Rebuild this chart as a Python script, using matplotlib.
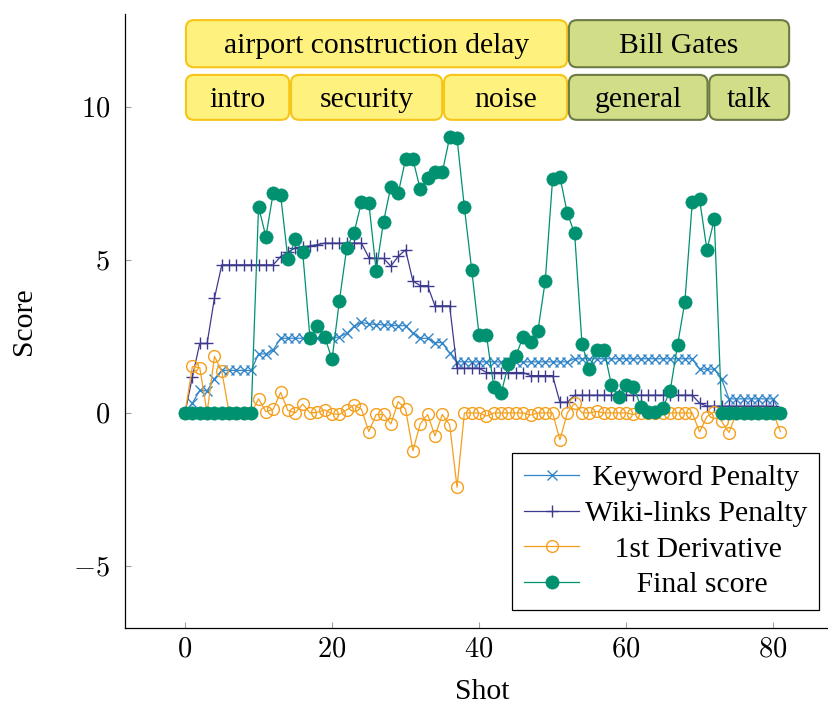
import numpy as np
import matplotlib
matplotlib.use("Agg")
import matplotlib.pyplot as plt
from matplotlib.patches import FancyBboxPatch
from matplotlib.ticker import FuncFormatter

plt.rcParams['font.family'] = ['Liberation Serif', 'DejaVu Serif']
plt.rcParams['mathtext.fontset'] = 'cm'

# Data (shots 0..81)
keyword_penalty = [0, 0.32, 0.74, 0.72, 1.12, 1.39, 1.39, 1.39, 1.39, 1.39,
                   1.93, 1.93, 2.06, 2.44, 2.44, 2.44, 2.44, 2.44, 2.44, 2.44,
                   2.44, 2.49, 2.60, 2.84, 2.96, 2.91, 2.89, 2.88, 2.87, 2.85,
                   2.85, 2.60, 2.44, 2.44, 2.30, 2.30, 1.95] + [1.67] * 16 + [1.77] * 17 + \
                  [1.43, 1.43, 1.43, 1.10] + [0.46] * 7 + [0]

wiki_penalty = [0, 1.18, 2.27, 2.27, 3.75] + [4.84] * 8 + \
               [5.11, 5.25, 5.40, 5.43, 5.46, 5.50] + [5.55] * 6 + \
               [5.08, 5.05, 5.05, 4.80, 5.12, 5.33, 4.31, 4.16, 4.16, 3.50, 3.50, 3.50] + \
               [1.46] * 4 + [1.32] * 6 + [1.22] * 4 + [0.35, 0.35] + [0.58] * 17 + \
               [0.32] + [0.22] * 10 + [0]

first_derivative = [0, 1.52, 1.48, 0, 1.85, 1.36, 0, 0, 0, 0,
                    0.46, 0.04, 0.12, 0.67, 0.08, 0.0, 0.29, 0.0, 0.02, 0.10,
                    -0.03, -0.05, 0.10, 0.26, 0.12, -0.61, -0.05, -0.05, -0.36, 0.37,
                    0.12, -1.23, -0.36, -0.05, -0.75, -0.05, -0.39, -2.43, 0, 0,
                    0, -0.10, 0, 0, 0, 0, 0, -0.07, 0, 0,
                    0, -0.88, 0, 0.32, 0, 0, 0.05, 0, 0, 0,
                    0, -0.05, 0, 0, 0, 0, 0, 0, 0, 0,
                    -0.62, -0.12, 0.04, -0.28, -0.64, 0, 0, 0, 0, 0,
                    0, -0.61]

final_score = [0] * 10 + \
              [6.74, 5.76, 7.20, 7.12, 5.02, 5.67, 5.27, 2.44, 2.84, 2.49,
               1.75, 3.67, 5.40, 5.89, 6.90, 6.87, 4.65, 6.25, 7.40, 7.18,
               8.29, 8.29, 7.31, 7.67, 7.89, 7.87, 9.01, 8.98, 6.72, 4.67,
               2.55, 2.55, 0.86, 0.64, 1.60, 1.87, 2.49, 2.33, 2.68, 4.31,
               7.64, 7.72, 6.53, 5.87, 2.25, 1.44, 2.06, 2.06, 0.92, 0.53,
               0.92, 0.86, 0.21, 0.04, 0.04, 0.17, 0.73, 2.22, 3.64, 6.88,
               6.98, 5.33, 6.33] + [0] * 9

shots = np.arange(len(final_score))

# Topic segments shown above the curves (shot ranges)
topic_labels = ["airport construction delay", "Bill Gates"]
topic_bounds = [(0, 52.1), (52.1, 82.3)]
subtopic_labels = ["intro", "security", "noise", "general", "talk"]
subtopic_bounds = [(0, 14.3), (14.3, 35.1), (35.1, 52.1), (52.1, 71.2), (71.2, 82.3)]
subtopic_group = [0, 0, 0, 1, 1]

FS = 21.3

fig = plt.figure(figsize=(8.29, 7.07), dpi=100)
ax = fig.add_axes([125.5 / 829, 1 - 628 / 707, (840 - 125.5) / 829, 614 / 707])

ax.plot(shots, keyword_penalty, color='#3387c9', lw=0.9, marker='x', ms=6.5, mew=1.0,
        label=' Keyword Penalty')
ax.plot(shots, wiki_penalty, color='#3d3a8e', lw=0.9, marker='+', ms=9, mew=1.0,
        label='Wiki-links Penalty')
ax.plot(shots, first_derivative, color='#f59f1c', lw=0.9, marker='o', ms=8.5, mew=1.0,
        mfc='none', label='    1st Derivative')
ax.plot(shots, final_score, color='#009170', lw=0.9, marker='o', ms=9.5, mew=0.5,
        label='       Final score')

# topic boxes
fills = ['#fff17e', '#d2dd87']
edges = ['#f7c41a', '#6c7a45']
x_to_y = (714.5 / 97.2) / (614 / 20.07)

def draw_box(x0, x1, y0, y1, text, g):
    box = FancyBboxPatch((x0 + 0.12, y0), x1 - x0 - 0.24, y1 - y0,
                         boxstyle="round,pad=0,rounding_size=1.1",
                         mutation_aspect=x_to_y,
                         fc=fills[g], ec=edges[g], lw=1.5, zorder=5, clip_on=False)
    ax.add_patch(box)
    ax.text((x0 + x1) / 2, (y0 + y1) / 2 - 0.08, text, ha='center', va='center',
            fontsize=FS, zorder=6)

for (x0, x1), lab, g in zip(topic_bounds, topic_labels, [0, 1]):
    draw_box(x0, x1, 11.30, 12.84, lab, g)
for (x0, x1), lab, g in zip(subtopic_bounds, subtopic_labels, subtopic_group):
    draw_box(x0, x1, 9.58, 11.05, lab, g)

ax.set_xlim(-8.1, 89.1)
ax.set_ylim(-7.03, 13.04)
ax.set_xticks([0, 20, 40, 60, 80])
ax.set_yticks([-5, 0, 5, 10])
fmt = FuncFormatter(lambda v, p: r'$%d$' % v)
ax.xaxis.set_major_formatter(fmt)
ax.yaxis.set_major_formatter(fmt)
ax.tick_params(direction='in', length=4.5, width=0.8, color='#a0a0a0', labelsize=20.5)
ax.tick_params(axis='y', pad=11)
ax.tick_params(axis='x', pad=7)
ax.spines['top'].set_visible(False)
ax.spines['right'].set_visible(False)
ax.spines['left'].set_linewidth(0.9)
ax.spines['bottom'].set_linewidth(0.9)

ax.set_xlabel('Shot', fontsize=FS, labelpad=12)
ax.set_ylabel('Score', fontsize=FS, labelpad=26)

leg = ax.legend(loc='lower right', bbox_to_anchor=(0.9706, 0.0293), borderaxespad=0,
                fontsize=FS, frameon=True, fancybox=False, framealpha=1,
                edgecolor='black', handlelength=1.85, handletextpad=0.2,
                labelspacing=0.3, borderpad=0.4)
leg.get_frame().set_linewidth(0.9)

fig.savefig('out.png', dpi=100)
